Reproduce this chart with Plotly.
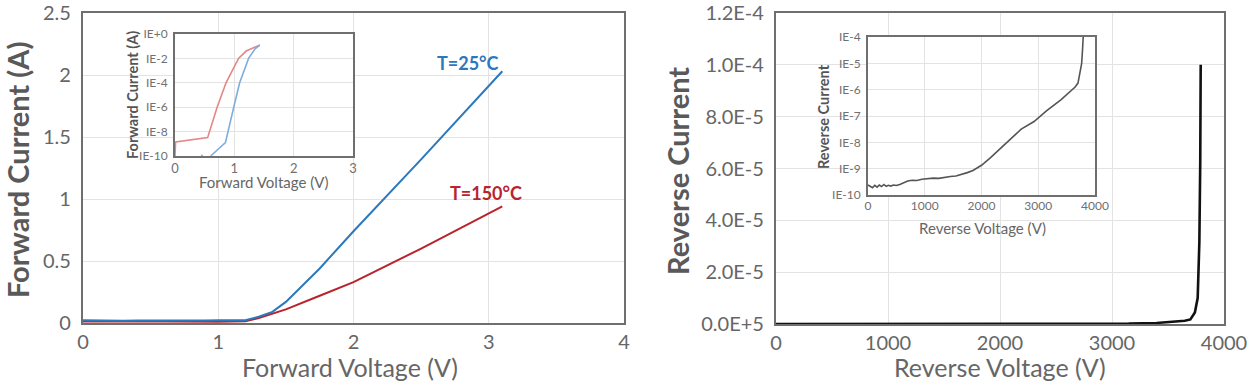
import plotly.graph_objects as go

W, H = 1252, 392

# ---------------- data ----------------
fwd_v = [0.0, 0.1, 0.2, 0.3, 0.4, 0.5, 0.6, 0.7, 0.8, 0.9, 1.0, 1.1, 1.2, 1.3, 1.4, 1.5, 1.75, 2.0, 2.5, 3.1]
fwd_i_25 = [0.022, 0.020, 0.023, 0.019, 0.021, 0.020, 0.022, 0.019, 0.021, 0.020, 0.022, 0.020, 0.022,
            0.05, 0.09, 0.17, 0.44, 0.74, 1.32, 2.03]
fwd_i_150 = [0.012, 0.011, 0.013, 0.012, 0.011, 0.012, 0.013, 0.011, 0.012, 0.012, 0.011, 0.012, 0.014,
             0.04, 0.075, 0.11, 0.22, 0.33, 0.60, 0.94]

inset_v_150 = [0.0, 0.01, 0.55, 0.71, 0.86, 1.07, 1.2, 1.43]
inset_i_150 = [1e-10, 1.4e-9, 3.2e-9, 1e-6, 1e-4, 1e-2, 4e-2, 1.25e-1]
inset_v_25 = [0.44, 0.46, None, 0.6, 0.85, 0.99, 1.09, 1.24, 1.35, 1.43]
inset_i_25 = [8e-11, 1.3e-10, None, 1e-10, 1.25e-9, 1e-6, 1e-4, 1e-2, 6e-2, 1.25e-1]

rev_v = [0, 40, 80, 120, 160, 200, 240, 280, 320, 360, 400, 450, 500, 560, 620, 700, 780, 860, 950,
         1050, 1150, 1250, 1350, 1450, 1550, 1650, 1750, 1850, 1920, 2000, 2150, 2336, 2500, 2700,
         2926, 3150, 3398, 3550, 3650, 3700, 3740, 3765, 3780, 3788, 3792]
rev_log_i = [-9.62, -9.66, -9.72, -9.63, -9.70, -9.62, -9.68, -9.60, -9.67, -9.63, -9.66, -9.62, -9.64,
             -9.60, -9.55, -9.47, -9.44, -9.45, -9.40, -9.38, -9.36, -9.37, -9.33, -9.30, -9.28,
             -9.22, -9.15, -9.07, -8.98, -8.87, -8.60, -8.22, -7.88, -7.50, -7.21, -6.80, -6.39,
             -6.10, -5.90, -5.75, -5.35, -5.00, -4.50, -4.20, -4.00]
rev_i = [10 ** v for v in rev_log_i]

fwd_yticks = [0, 0.5, 1, 1.5, 2, 2.5]
fwd_yticktext = ["0", "0.5", "1", "1.5", "2", "2.5"]
fwd_xticks = [0, 1, 2, 3, 4]
inset_fwd_yticks = [1e-10, 1e-8, 1e-6, 1e-4, 1e-2, 1e0]
inset_fwd_yticktext = ["IE-10", "IE-8", "IE-6", "IE-4", "IE-2", "IE+0"]
rev_yticks = [0, 2e-5, 4e-5, 6e-5, 8e-5, 1e-4, 1.2e-4]
rev_yticktext = ["0.0E+5", "2.0E-5", "4.0E-5", "6.0E-5", "8.0E-5", "1.0E-4", "1.2E-4"]
rev_xticks = [0, 1000, 2000, 3000, 4000]
inset_rev_yticks = [1e-10, 1e-9, 1e-8, 1e-7, 1e-6, 1e-5, 1e-4]
inset_rev_yticktext = ["IE-10", "IE-9", "IE-8", "IE-7", "IE-6", "IE-5", "IE-4"]

BLUE = "#2b78bd"
RED = "#b9232c"
FRAME = "#6f6f6f"
GRID = "#e3e3e3"
TXT = "#666666"
FONT = "Lato"


def px_x(p):
    return p / W


def px_y(p):
    return 1 - p / H


fig = go.Figure()

# main forward
fig.add_trace(go.Scatter(x=fwd_v, y=fwd_i_150, mode="lines", line=dict(color=RED, width=2),
                         xaxis="x", yaxis="y", showlegend=False))
fig.add_trace(go.Scatter(x=fwd_v, y=fwd_i_25, mode="lines", line=dict(color=BLUE, width=2),
                         xaxis="x", yaxis="y", showlegend=False))
# inset forward
fig.add_trace(go.Scatter(x=inset_v_150, y=inset_i_150, mode="lines", line=dict(color="#e48686", width=1.6),
                         xaxis="x2", yaxis="y2", showlegend=False))
fig.add_trace(go.Scatter(x=inset_v_25, y=inset_i_25, mode="lines", line=dict(color="#7eaedb", width=1.6),
                         xaxis="x2", yaxis="y2", showlegend=False, connectgaps=False))
# main reverse
fig.add_trace(go.Scatter(x=rev_v, y=rev_i, mode="lines", line=dict(color="#111111", width=2.6),
                         xaxis="x3", yaxis="y3", showlegend=False))
# inset reverse
fig.add_trace(go.Scatter(x=rev_v, y=rev_i, mode="lines", line=dict(color="#555555", width=1.6),
                         xaxis="x4", yaxis="y4", showlegend=False))

main_axis = dict(showline=True, linecolor=FRAME, linewidth=2.2, mirror=True, ticks="", ticklen=0,
                 showgrid=True, gridcolor=GRID, gridwidth=1.2, zeroline=False, automargin=False,
                 ticklabeloverflow="allow",
                 tickfont=dict(family=FONT, size=20, color=TXT))
inset_axis = dict(showline=True, linecolor=FRAME, linewidth=1.8, mirror=True, ticks="", ticklen=0,
                  showgrid=True, gridcolor=GRID, gridwidth=1.2, zeroline=False, automargin=False,
                  ticklabeloverflow="allow",
                  tickfont=dict(family=FONT, size=12, color="#707070"))

fig.update_layout(
    width=W, height=H,
    margin=dict(l=0, r=0, t=0, b=0, autoexpand=False),
    paper_bgcolor="white", plot_bgcolor="white",
    xaxis=dict(main_axis, domain=[px_x(83), px_x(624)], range=[0, 4], tickvals=fwd_xticks,
               anchor="y", ticklabelstandoff=0),
    yaxis=dict(main_axis, domain=[px_y(323), px_y(13)], range=[0, 2.5], tickvals=fwd_yticks,
               ticktext=fwd_yticktext, anchor="x", ticklabelstandoff=6),
    xaxis2=dict(inset_axis, domain=[px_x(175), px_x(353)], range=[0, 3], tickvals=[0, 1, 2, 3],
                anchor="y2", ticklabelstandoff=-1, tickfont=dict(family=FONT, size=13, color="#707070")),
    yaxis2=dict(inset_axis, domain=[px_y(156), px_y(34)], type="log", range=[-10, 0],
                tickvals=inset_fwd_yticks, ticktext=inset_fwd_yticktext, anchor="x2",
                ticklabelstandoff=3),
    xaxis3=dict(main_axis, domain=[px_x(776), px_x(1224)], range=[0, 4000], tickvals=rev_xticks,
                anchor="y3", ticklabelstandoff=0),
    yaxis3=dict(main_axis, domain=[px_y(324), px_y(13)], range=[0, 1.2e-4], tickvals=rev_yticks,
                ticktext=rev_yticktext, anchor="x3", ticklabelstandoff=6),
    xaxis4=dict(inset_axis, domain=[px_x(868), px_x(1095)], range=[0, 4000],
                tickvals=rev_xticks, anchor="y4", ticklabelstandoff=-1),
    yaxis4=dict(inset_axis, domain=[px_y(195), px_y(37)], type="log", range=[-10, -4],
                tickvals=inset_rev_yticks, ticktext=inset_rev_yticktext, anchor="x4",
                ticklabelstandoff=3),
)

ann = []


def title(text, x, y, size, bold=False, angle=0, color="#595959"):
    ann.append(dict(text=f"<b>{text}</b>" if bold else text, x=px_x(x), y=px_y(y),
                    xref="paper", yref="paper", showarrow=False, textangle=angle,
                    xanchor="center", yanchor="middle",
                    font=dict(family=FONT, size=size, color=color)))


title("Forward Current (A)", 17, 170, 29, bold=True, angle=-90)
title("Forward Voltage (V)", 350, 367, 25, color=TXT)
title("Reverse Current", 677, 171, 29, bold=True, angle=-90)
title("Reverse Voltage (V)", 1000, 367, 25, color=TXT)
title("Forward Current (A)", 133, 95, 14.5, bold=True, angle=-90, color="#555555")
title("Forward Voltage (V)", 264, 182, 15, color=TXT)
title("Reverse Current", 823, 117, 14.5, bold=True, angle=-90, color="#555555")
title("Reverse Voltage (V)", 982, 228, 15, color=TXT)

ann.append(dict(text="<b>T=25°C</b>", x=2.85, y=2.10, xref="x", yref="y", showarrow=False,
                font=dict(family=FONT, size=18, color=BLUE)))
ann.append(dict(text="<b>T=150°C</b>", x=2.98, y=1.05, xref="x", yref="y", showarrow=False,
                font=dict(family=FONT, size=18, color=RED)))

fig.update_layout(annotations=ann)

fig.write_html("out.html", config={"displayModeBar": False},
               post_script="document.body.style.margin='0';document.body.style.padding='0';")
